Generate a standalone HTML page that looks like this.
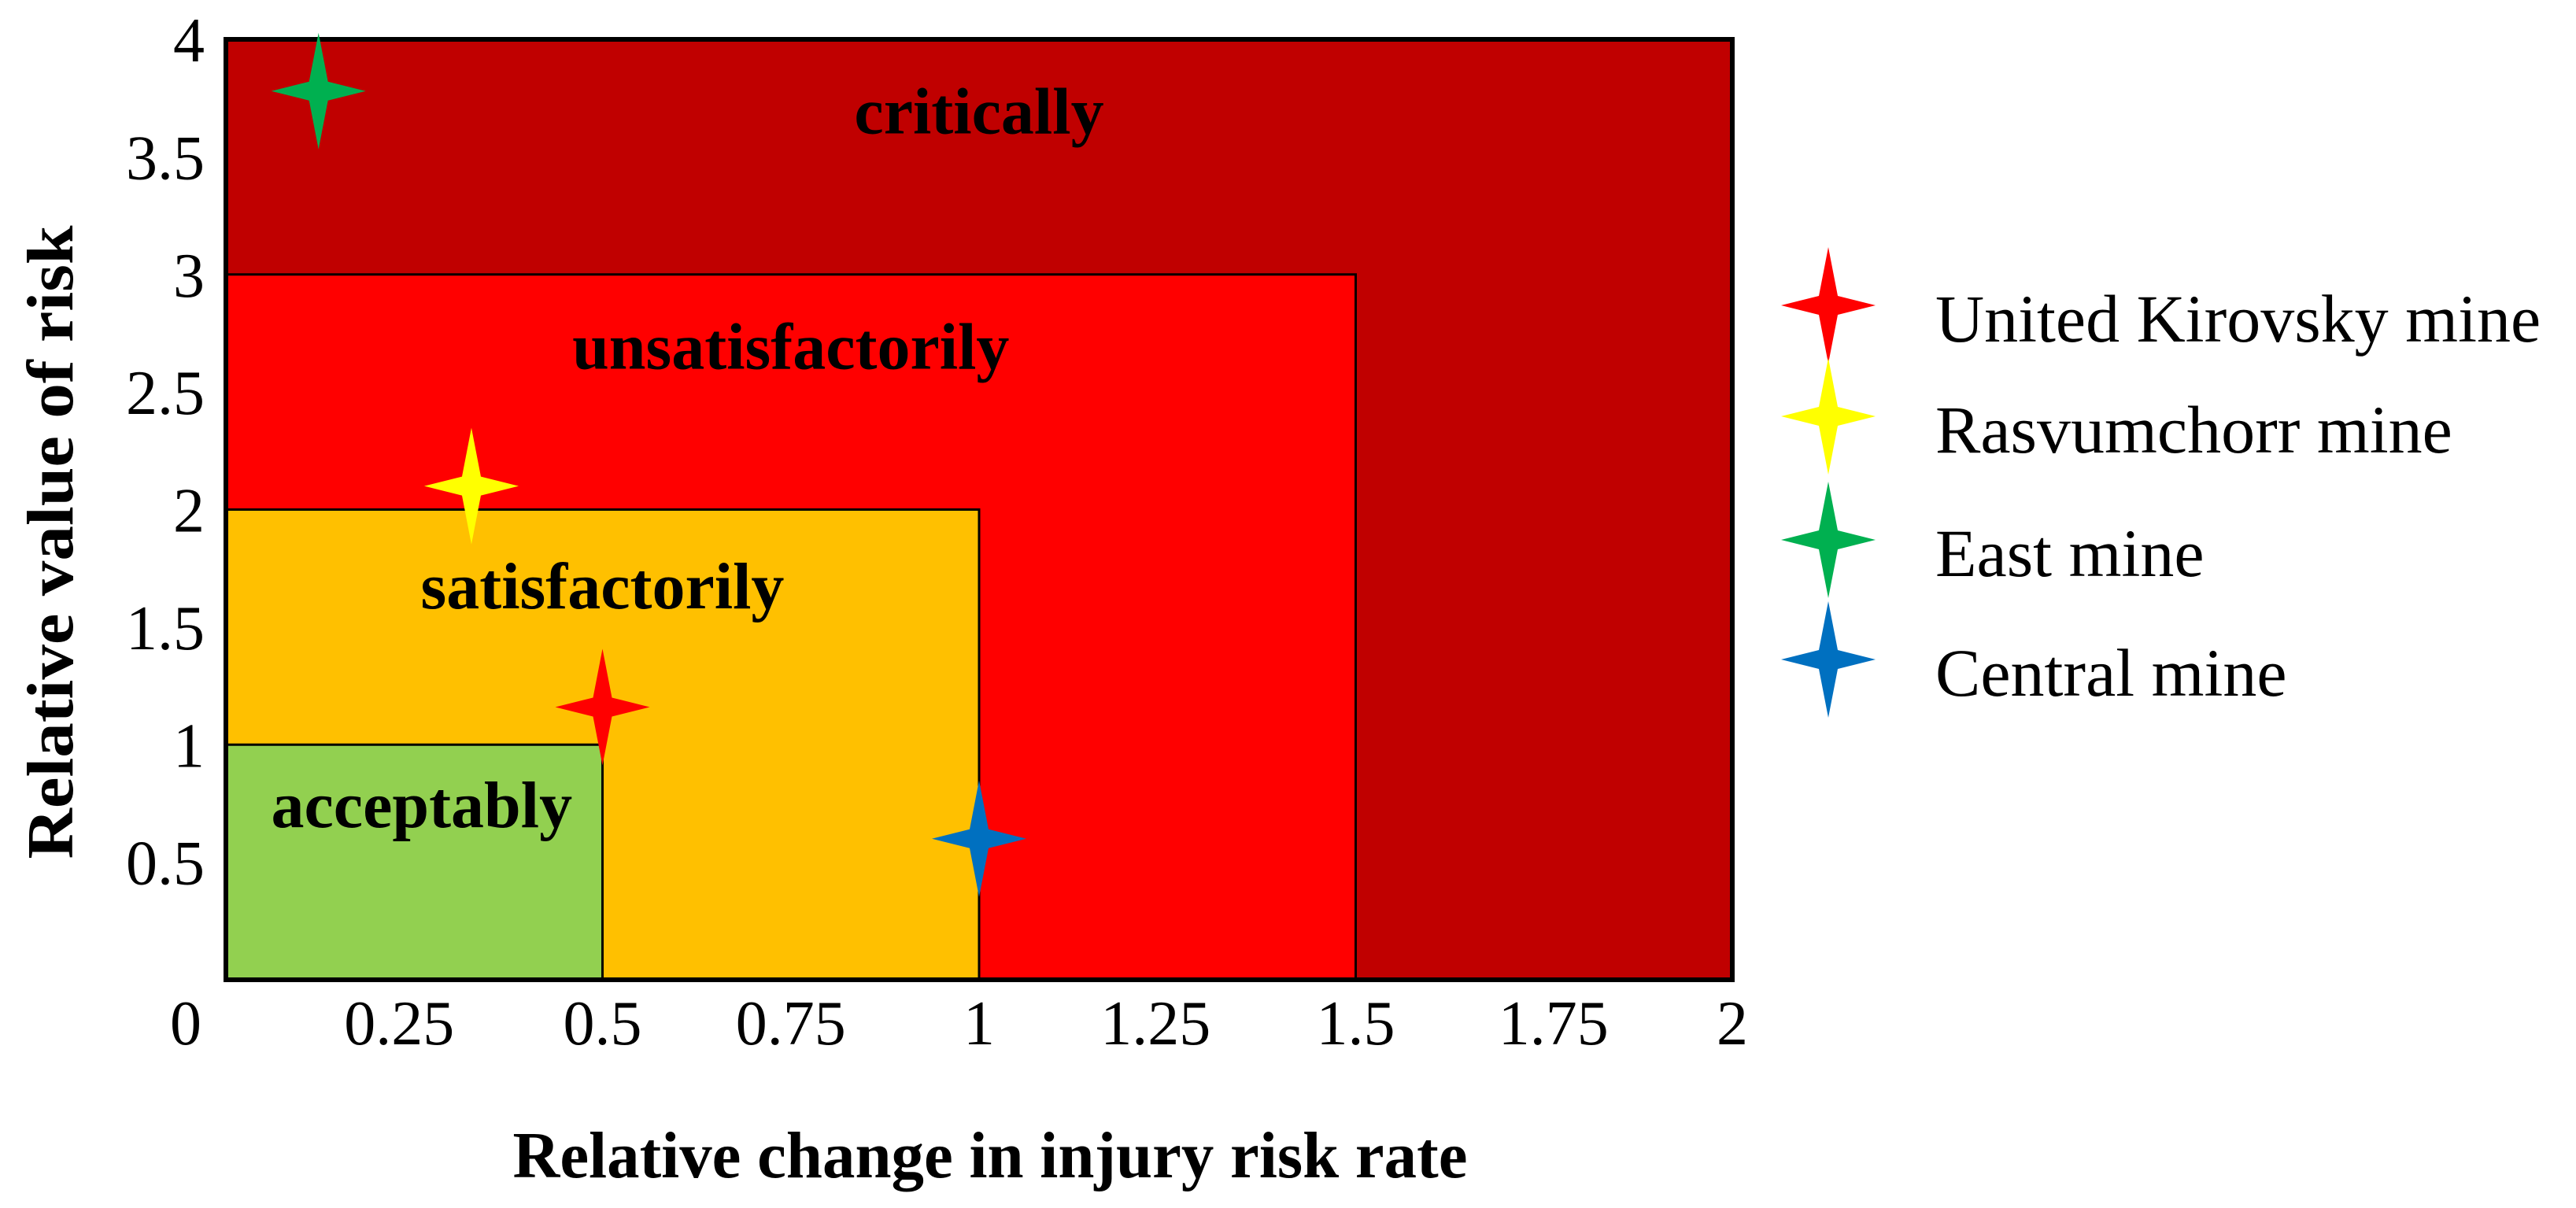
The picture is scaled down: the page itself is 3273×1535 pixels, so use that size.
<!DOCTYPE html>
<html><head><meta charset="utf-8"><style>
html,body{margin:0;padding:0;background:#fff;}
svg{display:block;}
text{font-family:"Liberation Serif",serif;fill:#000;}
</style></head><body>
<svg id="chart" width="3273" height="1535" viewBox="0 0 3273 1535" xmlns="http://www.w3.org/2000/svg">
<g id="zones"></g>
<g id="zoneLabels"></g>
<rect x="287" y="50" width="1914" height="1195" fill="none" stroke="#000" stroke-width="6"/>
<g id="points"></g>
<g id="xticks"></g>
<g id="yticks"></g>
<text x="1258" y="1496" text-anchor="middle" font-size="84" font-weight="bold" textLength="1213" lengthAdjust="spacingAndGlyphs">Relative change in injury risk rate</text>
<text transform="translate(92,689) rotate(-90)" text-anchor="middle" font-size="84" font-weight="bold" textLength="805" lengthAdjust="spacingAndGlyphs">Relative value of risk</text>
<g id="legend"></g>
</svg>
<script>
const zoneNames = ["critically","unsatisfactorily","satisfactorily","acceptably"];
const zoneMaxX = [2, 1.5, 1, 0.5];
const zoneMaxY = [4, 3, 2, 1];
const zoneColors = ["#C00000","#FF0000","#FFC000","#92D050"];
const zoneLabelX = [1.0, 0.75, 0.5, 0.26];
const zoneLabelY = [3.6, 2.6, 1.58, 0.65];

const mineNames = ["United Kirovsky mine","Rasvumchorr mine","East mine","Central mine"];
const mineX = [0.5, 0.326, 0.123, 1.0];
const mineY = [1.16, 2.1, 3.78, 0.6];
const mineColors = ["#FF0000","#FFFF00","#00B050","#0070C0"];

const xTickValues = [0,0.25,0.5,0.75,1,1.25,1.5,1.75,2];
const xTickLabels = ["0","0.25","0.5","0.75","1","1.25","1.5","1.75","2"];
const yTickValues = [0.5,1,1.5,2,2.5,3,3.5,4];
const yTickLabels = ["0.5","1","1.5","2","2.5","3","3.5","4"];

const NS = "http://www.w3.org/2000/svg";
const X0 = 287, X1 = 2201, Y0 = 1245, Y1 = 50;
function xs(v){ return X0 + v/2*(X1-X0); }
function ys(v){ return Y0 - v/4*(Y0-Y1); }
function mk(tag, attrs, parent){
  const e = document.createElementNS(NS, tag);
  for (const k in attrs) e.setAttribute(k, attrs[k]);
  parent.appendChild(e);
  return e;
}
function starPath(cx, cy){
  const v=74, h=60, w=12;
  return `M${cx},${cy-v} L${cx+w},${cy-w} L${cx+h},${cy} L${cx+w},${cy+w} L${cx},${cy+v} L${cx-w},${cy+w} L${cx-h},${cy} L${cx-w},${cy-w} Z`;
}

const zones = document.getElementById('zones');
zoneNames.forEach((n,i)=>{
  const r = mk('rect',{x:xs(0),y:ys(zoneMaxY[i]),width:xs(zoneMaxX[i])-xs(0),height:ys(0)-ys(zoneMaxY[i]),fill:zoneColors[i],stroke:'#000','stroke-width':i===0?0:3}, zones);
  
  
});
const zl = document.getElementById('zoneLabels');
zoneNames.forEach((n,i)=>{
  const t = mk('text',{x:xs(zoneLabelX[i]),y:ys(zoneLabelY[i]),'text-anchor':'middle','font-size':84,'font-weight':'bold'}, zl);
  t.textContent = n;
  
  
});
const pts = document.getElementById('points');
mineNames.forEach((n,i)=>{
  const p = mk('path',{d:starPath(xs(mineX[i]), ys(mineY[i])), fill:mineColors[i]}, pts);
  
  
});
const xt = document.getElementById('xticks');
const xLabelShift = {0:-51, 0.25:-19, 1.25:-15, 1.75:12};
xTickValues.forEach((v,i)=>{
  const x = xs(v) + (xLabelShift[v] || 0);
  const t = mk('text',{x:x,y:1327,'text-anchor':'middle','font-size':80}, xt);
  t.textContent = xTickLabels[i];
  
  
});
const yt = document.getElementById('yticks');
yTickValues.forEach((v,i)=>{
  const t = mk('text',{x:260,y:ys(v)+28,'text-anchor':'end','font-size':80}, yt);
  t.textContent = yTickLabels[i];
  
  
});
const lg = document.getElementById('legend');
const legendStarY = [388,529,686,838];
mineNames.forEach((n,i)=>{
  const p = mk('path',{d:starPath(2323, legendStarY[i]), fill:mineColors[i]}, lg);
  
  
  const t = mk('text',{x:2459,y:legendStarY[i]+46,'font-size':86}, lg);
  t.textContent = n;
  
  
});
</script>
</body></html>
